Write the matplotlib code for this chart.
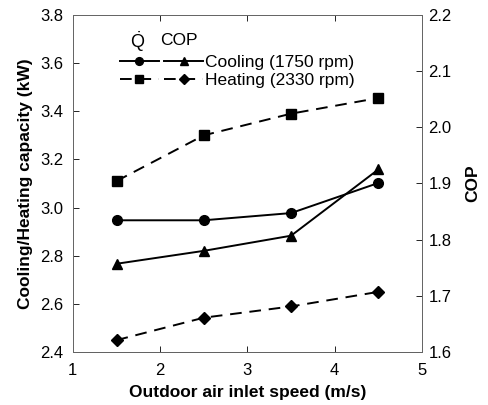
import matplotlib.pyplot as plt
from matplotlib.legend_handler import HandlerTuple

plt.rcParams['font.family'] = ['Liberation Sans', 'DejaVu Sans']
plt.rcParams['mathtext.fontset'] = 'custom'
plt.rcParams['mathtext.rm'] = 'Liberation Sans'

# Outdoor air inlet speed (m/s)
speed = [1.5, 2.5, 3.5, 4.5]
# Capacity (kW)
q_cooling = [2.947, 2.947, 2.977, 3.102]
q_heating = [3.11, 3.30, 3.39, 3.455]
# COP
cop_cooling = [1.757, 1.78, 1.807, 1.925]
cop_heating = [1.621, 1.661, 1.681, 1.707]

fig = plt.figure(figsize=(4.89, 4.05), dpi=100)
ax = fig.add_axes([0.149, 0.131, 0.714, 0.832])
ax2 = ax.twinx()

ms = 7
l1, = ax.plot(speed, q_cooling, 'k-', marker='o', ms=ms, lw=1.4)
l2, = ax.plot(speed, q_heating, 'k--', marker='s', ms=ms, lw=1.4, dashes=(6, 4))
l3, = ax2.plot(speed, cop_cooling, 'k-', marker='^', ms=ms, lw=1.4)
l4, = ax2.plot(speed, cop_heating, 'k--', marker='D', ms=6, lw=1.4, dashes=(6, 4))

ax.set_xlim(1, 5)
ax.set_ylim(2.4, 3.8)
ax2.set_ylim(1.6, 2.2)
ax.set_xticks([1, 2, 3, 4, 5])
ax.set_yticks([2.4, 2.6, 2.8, 3.0, 3.2, 3.4, 3.6, 3.8])
ax2.set_yticks([1.6, 1.7, 1.8, 1.9, 2.0, 2.1, 2.2])
ax.yaxis.set_major_formatter(plt.FormatStrFormatter('%.1f'))
ax2.yaxis.set_major_formatter(plt.FormatStrFormatter('%.1f'))

ax.tick_params(axis='both', direction='in', labelsize=12, length=4, width=0.6, top=True)
ax.tick_params(axis='y', pad=7)
ax.tick_params(axis='x', pad=8)
ax2.tick_params(axis='y', direction='in', labelsize=12, length=4, width=0.6, pad=4.5)
for a in (ax, ax2):
    for sp in a.spines.values():
        sp.set_color('#666666')
        sp.set_linewidth(0.7)
ax.spines['bottom'].set_color('black')

ax.set_xlabel('Outdoor air inlet speed (m/s)', fontsize=12.5, fontweight='bold', labelpad=5)
ax.set_ylabel('Cooling/Heating capacity (kW)', fontsize=12.5, fontweight='bold', labelpad=5)
ax2.set_ylabel('COP', fontsize=12.5, fontweight='bold', labelpad=10)

# Legend: capacity marker and COP marker side by side on each row
leg = ax2.legend([(l1, l3), (l2, l4)], ['Cooling (1750 rpm)', 'Heating (2330 rpm)'],
                 handler_map={tuple: HandlerTuple(ndivide=None, pad=0.3)},
                 loc='upper left', bbox_to_anchor=(0.09, 0.927), frameon=False,
                 handlelength=4.8, handletextpad=0.1, fontsize=12.5, labelspacing=0.15,
                 markerscale=0.8)
ax.text(0.185, 0.92, r'$\dot{\mathrm{Q}}$', transform=ax.transAxes, fontsize=13, ha='center', va='center')
ax.text(0.25, 0.925, 'COP', transform=ax.transAxes, fontsize=12.5, ha='left', va='center')

fig.savefig('out.png', dpi=100)
